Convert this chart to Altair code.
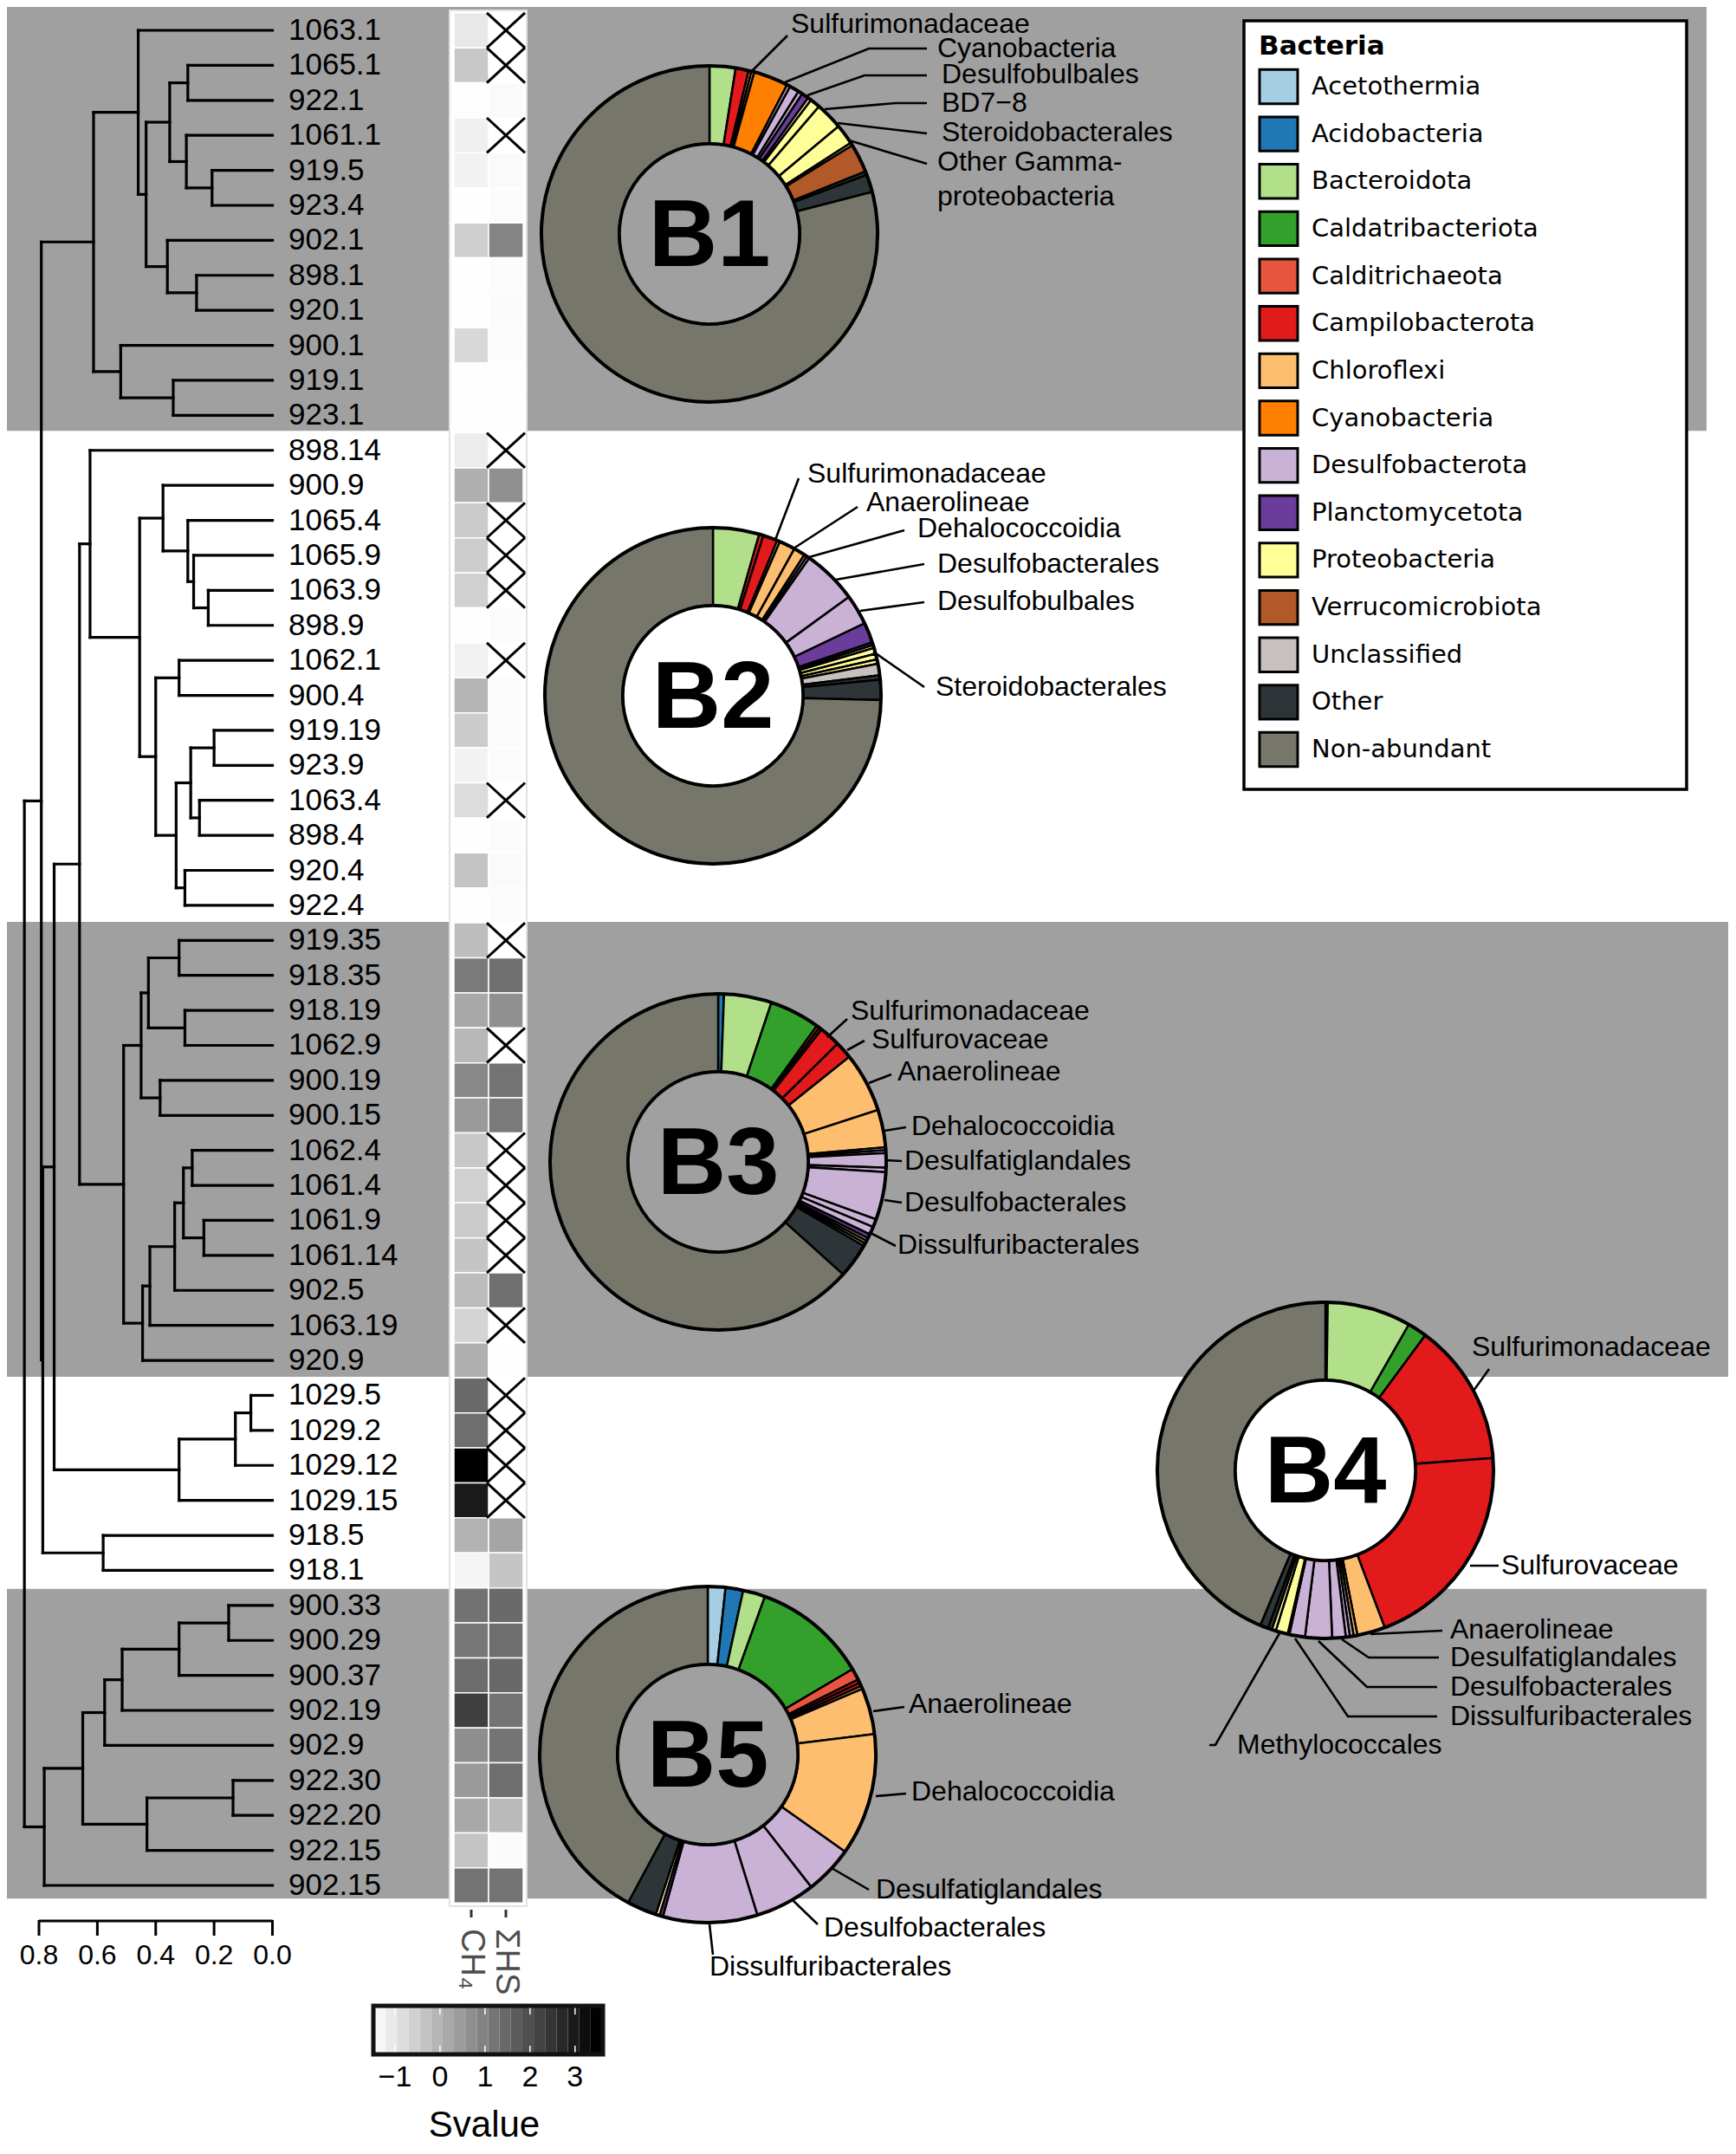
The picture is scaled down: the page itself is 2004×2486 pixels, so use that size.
import math
import numpy as np
import pandas as pd
import altair as alt

# ---------------- data ----------------
LEAVES = ["1063.1", "1065.1", "922.1", "1061.1", "919.5", "923.4", "902.1", "898.1", "920.1", "900.1", "919.1", "923.1",
          "898.14", "900.9", "1065.4", "1065.9", "1063.9", "898.9", "1062.1", "900.4", "919.19", "923.9", "1063.4",
          "898.4", "920.4", "922.4",
          "919.35", "918.35", "918.19", "1062.9", "900.19", "900.15", "1062.4", "1061.4", "1061.9", "1061.14", "902.5",
          "1063.19", "920.9",
          "1029.5", "1029.2", "1029.12", "1029.15", "918.5", "918.1",
          "900.33", "900.29", "900.37", "902.19", "902.9", "922.30", "922.20", "922.15", "902.15"]

CH4 = [-1.05, -0.42, -1.46, -1.21, -1.25, -1.48, -0.56, -1.48, -1.46, -0.74, -1.48, -1.48,
       -1.13, 0.05, -0.48, -0.52, -0.58, -1.48, -1.25, -0.05, -0.50, -1.25, -0.81, -1.48, -0.34, -1.48,
       -0.21, 1.11, 0.21, -0.11, 0.83, 0.48, -0.42, -0.58, -0.48, -0.36, -0.19, -0.66, 0.05,
       1.42, 1.34, 3.5, 2.99, 0.01, -1.30,
       1.26, 1.17, 1.36, 2.25, 0.72, 0.48, 0.21, -0.34, 1.25]
SHS = [None, None, -1.40, None, -1.40, -1.44, 0.89, -1.44, -1.42, -1.44, -1.46, -1.46,
       None, 0.68, None, None, None, -1.44, None, -1.44, -1.44, -1.44, None, -1.44, -1.40, -1.44,
       None, 1.30, 0.68, None, 1.25, 1.11, None, None, None, None, 1.30, None, -1.48,
       None, None, None, None, 0.26, -0.36,
       1.42, 1.34, 1.46, 1.23, 1.23, 1.34, -0.15, -1.42, 1.25]
HEAT_COLS = ["CH\u2084", "\u03a3HS"]

# dendrogram: (merge height, left, right)
B1 = (0.613,
      (0.46, "1063.1",
       (0.433,
        (0.352, (0.29, "1065.1", "922.1"), (0.295, "1061.1", (0.207, "919.5", "923.4"))),
        (0.36, "902.1", (0.26, "898.1", "920.1")))),
      (0.52, "900.1", (0.34, "919.1", "923.1")))
B2 = (0.625, "898.14",
      (0.455,
       (0.375, "900.9", (0.29, "1065.4", (0.27, "1065.9", (0.22, "1063.9", "898.9")))),
       (0.40, (0.32, "1062.1", "900.4"),
        (0.33, (0.28, (0.20, "919.19", "923.9"), (0.25, "1063.4", "898.4")),
         (0.30, "920.4", "922.4")))))
B3 = (0.51,
      (0.45, (0.425, (0.32, "919.35", "918.35"), (0.30, "918.19", "1062.9")),
       (0.385, "900.19", "900.15")),
      (0.445, (0.42, (0.335, (0.305, (0.275, "1062.4", "1061.4"), (0.235, "1061.9", "1061.14")), "902.5"),
               "1063.19"), "920.9"))
C1029 = (0.32, (0.127, (0.074, "1029.5", "1029.2"), "1029.12"), "1029.15")
C918 = (0.58, "918.5", "918.1")
B5 = (0.782,
      (0.65, (0.575, (0.515, (0.32, (0.15, "900.33", "900.29"), "900.37"), "902.19"), "902.9"),
       (0.43, (0.135, "922.30", "922.20"), "922.15")),
      "902.15")
TREE = (0.85, (0.792, B1, (0.787, (0.748, (0.661, B2, B3), C1029), C918)), B5)
AXIS_TICKS = [0.8, 0.6, 0.4, 0.2, 0.0]

PHYLA = ["Acetothermia", "Acidobacteria", "Bacteroidota", "Caldatribacteriota", "Calditrichaeota",
         "Campilobacterota", "Chloroflexi", "Cyanobacteria", "Desulfobacterota", "Planctomycetota",
         "Proteobacteria", "Verrucomicrobiota", "Unclassified", "Other", "Non-abundant"]
COLORS = ["#a6cee3", "#1f78b4", "#b2df8a", "#33a02c", "#e8553f", "#e31a1c", "#fdbf6f", "#ff7f00",
          "#cab2d6", "#6a3d9a", "#ffff99", "#b15928", "#c8bfbf", "#2d3538", "#77766b"]

P1_PHY = ["Bacteroidota", "Campilobacterota", "Chloroflexi", "Chloroflexi", "Cyanobacteria",
          "Desulfobacterota", "Desulfobacterota", "Desulfobacterota", "Planctomycetota",
          "Proteobacteria", "Proteobacteria", "Proteobacteria", "Proteobacteria", "Proteobacteria",
          "Verrucomicrobiota", "Other", "Other", "Non-abundant"]
P1_VAL = [9.0, 4.5, 1.0, 1.0, 12.0, 1.2, 3.3, 1.5, 2.5, 1.2, 3.5, 9.5, 7.0, 1.0, 10.0, 1.2, 6.1, 284.5]

P2_PHY = ["Bacteroidota", "Campilobacterota", "Campilobacterota", "Chloroflexi", "Chloroflexi", "Chloroflexi",
          "Desulfobacterota", "Desulfobacterota", "Desulfobacterota", "Desulfobacterota",
          "Planctomycetota", "Planctomycetota", "Proteobacteria", "Proteobacteria", "Proteobacteria",
          "Proteobacteria", "Unclassified", "Other", "Other", "Non-abundant"]
P2_VAL = [16.0, 1.5, 5.0, 1.0, 5.5, 4.0, 1.0, 1.0, 19.0, 10.5, 7.0, 1.0, 1.0, 2.0, 2.0, 1.5, 4.0, 1.5, 7.0, 268.5]

P3_PHY = ["Acidobacteria", "Bacteroidota", "Caldatribacteriota", "Calditrichaeota", "Campilobacterota",
          "Campilobacterota", "Campilobacterota", "Chloroflexi", "Chloroflexi", "Desulfobacterota",
          "Desulfobacterota", "Desulfobacterota", "Desulfobacterota", "Desulfobacterota", "Desulfobacterota",
          "Desulfobacterota", "Planctomycetota", "Proteobacteria", "Proteobacteria",
          "Unclassified", "Other", "Non-abundant"]
P3_VAL = [2.0, 16.5, 17.5, 1.0, 1.0, 7.3, 6.0, 20.7, 13.0, 1.0, 1.0, 5.0, 1.5, 16.5, 2.8, 2.7, 1.5,
          1.0, 1.0, 1.0, 12.0, 228.0]

P4_PHY = ["Acidobacteria", "Bacteroidota", "Caldatribacteriota", "Campilobacterota", "Campilobacterota",
          "Chloroflexi", "Chloroflexi", "Desulfobacterota", "Desulfobacterota", "Desulfobacterota",
          "Desulfobacterota", "Desulfobacterota", "Planctomycetota", "Proteobacteria", "Proteobacteria",
          "Other", "Other", "Non-abundant"]
P4_VAL = [0.8, 29.0, 6.7, 49.3, 73.5, 9.7, 1.3, 1.3, 1.4, 4.7, 9.3, 5.4, 0.6, 4.2, 1.4, 1.4, 2.8, 157.2]

P5_PHY = ["Acetothermia", "Acidobacteria", "Bacteroidota", "Caldatribacteriota", "Calditrichaeota",
          "Campilobacterota", "Campilobacterota", "Chloroflexi", "Chloroflexi", "Chloroflexi",
          "Desulfobacterota", "Desulfobacterota", "Desulfobacterota", "Planctomycetota", "Proteobacteria",
          "Other", "Non-abundant"]
P5_VAL = [6.1, 6.1, 7.7, 39.6, 4.0, 1.2, 1.2, 1.1, 16.0, 42.3, 16.7, 20.8, 32.7, 1.2, 1.3, 10.3, 151.7]

# ---------------- layout (original-picture pixel coordinates) ----------------
BAND_GRAY = "#a0a0a0"
BAND_R0 = [-0.72, 25.47, 44.53]
BAND_R1 = [11.44, 38.47, 53.38]
BAND_X0 = [6, 6, 6]
BAND_X1 = [1970, 1995, 1970]

PIES = [  # name, phyla, values, cx, cy, inner fill
    ("B1", P1_PHY, P1_VAL, 819, 270, BAND_GRAY),
    ("B2", P2_PHY, P2_VAL, 823, 803, "white"),
    ("B3", P3_PHY, P3_VAL, 829, 1341, BAND_GRAY),
    ("B4", P4_PHY, P4_VAL, 1530, 1697, "white"),
    ("B5", P5_PHY, P5_VAL, 817, 2025, BAND_GRAY),
]
RO, RI = 194, 104

ANNOT = [  # text, text x, text y, leader polyline
    ("Sulfurimonadaceae", 913, 28, [(868, 82), (909, 41)]),
    ("Cyanobacteria", 1082, 56, [(906, 95), (1003, 56), (1070, 56)]),
    ("Desulfobulbales", 1087, 86, [(932, 110), (998, 87), (1070, 87)]),
    ("BD7\u22128", 1087, 119, [(952, 126), (1034, 119), (1070, 119)]),
    ("Steroidobacterales", 1087, 153, [(967, 142), (1070, 154)]),
    ("Other Gamma-", 1082, 187, [(980, 162), (1070, 189)]),
    ("proteobacteria", 1082, 227, []),
    ("Sulfurimonadaceae", 932, 547, [(895, 623), (922, 552)]),
    ("Anaerolineae", 1000, 580, [(916, 633), (990, 585)]),
    ("Dehalococcoidia", 1059, 610, [(934, 643), (1044, 612)]),
    ("Desulfobacterales", 1082, 651, [(965, 669), (1067, 651)]),
    ("Desulfobulbales", 1082, 694, [(993, 705), (1067, 695)]),
    ("Steroidobacterales", 1080, 793, [(1008, 752), (1067, 793)]),
    ("Sulfurimonadaceae", 982, 1167, [(955, 1197), (978, 1176)]),
    ("Sulfurovaceae", 1006, 1200, [(978, 1212), (998, 1201)]),
    ("Anaerolineae", 1036, 1237, [(1003, 1250), (1029, 1240)]),
    ("Dehalococcoidia", 1052, 1300, [(1021, 1305), (1046, 1301)]),
    ("Desulfatiglandales", 1044, 1340, [(1022, 1339), (1041, 1340)]),
    ("Desulfobacterales", 1044, 1388, [(1021, 1385), (1041, 1388)]),
    ("Dissulfuribacterales", 1036, 1437, [(1003, 1422), (1034, 1438)]),
    ("Sulfurimonadaceae", 1699, 1555, [(1701, 1605), (1719, 1580)]),
    ("Sulfurovaceae", 1733, 1807, [(1697, 1807), (1730, 1807)]),
    ("Anaerolineae", 1674, 1881, [(1582, 1886), (1665, 1882)]),
    ("Desulfatiglandales", 1674, 1913, [(1549, 1892), (1580, 1913), (1661, 1913)]),
    ("Desulfobacterales", 1674, 1947, [(1522, 1894), (1578, 1947), (1659, 1947)]),
    ("Dissulfuribacterales", 1674, 1981, [(1495, 1891), (1556, 1981), (1659, 1981)]),
    ("Methylococcales", 1428, 2014, [(1477, 1885), (1403, 2014), (1396, 2014)]),
    ("Anaerolineae", 1049, 1967, [(1008, 1975), (1044, 1970)]),
    ("Dehalococcoidia", 1052, 2068, [(1011, 2073), (1046, 2070)]),
    ("Desulfatiglandales", 1011, 2181, [(960, 2156), (1003, 2181)]),
    ("Desulfobacterales", 951, 2225, [(914, 2192), (944, 2221)]),
    ("Dissulfuribacterales", 819, 2270, [(819, 2221), (823, 2256)]),
]

# ---------------- scales ----------------
M = 8
PX = alt.Scale(domain=[0, 2004], range=[-M, 2004 - M], nice=False, zero=False)
PY = alt.Scale(domain=[0, 2486], range=[-M, 2486 - M], nice=False, zero=False)
ROWY = alt.Scale(domain=[0, 53], range=[35 - M, 2176 - M], nice=False, zero=False)
DX = alt.Scale(domain=[0.0, 0.8], range=[314.5 - M, 45 - M], nice=False, zero=False)
HX = alt.Scale(domain=[-0.5, 1.5], range=[524 - M, 604 - M], nice=False, zero=False)
CX = alt.Scale(domain=[-1.46, 3.6], range=[432 - M, 695 - M], nice=False, zero=False)
LY = alt.Scale(domain=[0, 14], range=[100 - M, 865 - M], nice=False, zero=False)
HEATC = alt.Scale(domain=[-1.5, 3.5], range=["#ffffff", "#000000"], interpolate="rgb")
FILLS = alt.Scale(domain=PHYLA, range=COLORS)
THETA = alt.Scale(domain=[0, 1], range=[0, 2 * math.pi], zero=False, nice=False)
ONE = pd.DataFrame({"a": [0]})
FONT = "Liberation Sans"

layers = []

# background bands
band_df = pd.DataFrame({"r0": BAND_R0, "r1": BAND_R1, "x0": BAND_X0, "x1": BAND_X1})
layers.append(alt.Chart(band_df).mark_rect(color=BAND_GRAY).encode(
    x=alt.X("x0:Q", scale=PX, axis=None), x2="x1",
    y=alt.Y("r0:Q", scale=ROWY, axis=None), y2="r1"))

# heatmap column background
layers.append(alt.Chart(ONE).mark_rect(fill="white", stroke="#e2e2e2", strokeWidth=2).encode(
    x=alt.value(519 - M), x2=alt.value(608 - M), y=alt.value(12 - M), y2=alt.value(2200 - M)))

# heatmap cells
cells = []
xs = []
for r in range(len(LEAVES)):
    for c, vals in enumerate([CH4, SHS]):
        v = vals[r]
        if v is None:
            xs.append({"a": c - 0.55, "b": c + 0.55, "c": r - 0.5, "d": r + 0.5})
            xs.append({"a": c - 0.55, "b": c + 0.55, "c": r + 0.5, "d": r - 0.5})
        else:
            cells.append({"c0": c - 0.5, "c1": c + 0.5, "r0": r - 0.5, "r1": r + 0.5, "v": v})
layers.append(alt.Chart(pd.DataFrame(cells)).mark_rect(stroke="white", strokeWidth=1.5).encode(
    x=alt.X("c0:Q", scale=HX, axis=None), x2="c1",
    y=alt.Y("r0:Q", scale=ROWY, axis=None), y2="r1",
    color=alt.Color("v:Q", scale=HEATC, legend=None)))
layers.append(alt.Chart(pd.DataFrame(xs)).mark_rule(color="black", strokeWidth=3).encode(
    x=alt.X("a:Q", scale=HX, axis=None), x2="b",
    y=alt.Y("c:Q", scale=ROWY, axis=None), y2="d"))

# dendrogram
rows = {n: i for i, n in enumerate(LEAVES)}
segs = []


def walk(node):
    if isinstance(node, str):
        return float(rows[node]), 0.0
    h, left, right = node
    yl, hl = walk(left)
    yr, hr = walk(right)
    segs.append({"x": h, "x2": h, "y": yl, "y2": yr})
    segs.append({"x": hl, "x2": h, "y": yl, "y2": yl})
    segs.append({"x": hr, "x2": h, "y": yr, "y2": yr})
    return (yl + yr) / 2, h


walk(TREE)
layers.append(alt.Chart(pd.DataFrame(segs)).mark_rule(color="black", strokeWidth=3.2, strokeCap="square").encode(
    x=alt.X("x:Q", scale=DX, axis=None), x2="x2",
    y=alt.Y("y:Q", scale=ROWY, axis=None), y2="y2"))

# leaf labels
leaf_df = pd.DataFrame({"leaf": LEAVES, "row": list(range(len(LEAVES)))})
layers.append(alt.Chart(leaf_df).mark_text(align="left", baseline="middle", fontSize=35, font=FONT).encode(
    x=alt.value(333 - M), y=alt.Y("row:Q", scale=ROWY, axis=None), text="leaf:N"))

# dendrogram axis
layers.append(alt.Chart(pd.DataFrame({"a": [0.8], "b": [0.0]})).mark_rule(color="black", strokeWidth=3).encode(
    x=alt.X("a:Q", scale=DX, axis=None), x2="b", y=alt.value(2217 - M)))
tick_df = pd.DataFrame({"t": AXIS_TICKS, "lab": [f"{t:.1f}" for t in AXIS_TICKS]})
layers.append(alt.Chart(tick_df).mark_rule(color="black", strokeWidth=3).encode(
    x=alt.X("t:Q", scale=DX, axis=None), y=alt.value(2216 - M), y2=alt.value(2234 - M)))
layers.append(alt.Chart(tick_df).mark_text(fontSize=32, font=FONT, baseline="middle").encode(
    x=alt.X("t:Q", scale=DX, axis=None), y=alt.value(2257 - M), text="lab:N"))

# heatmap column ticks and labels
hc_df = pd.DataFrame({"c": [0, 1], "lab": HEAT_COLS})
layers.append(alt.Chart(hc_df).mark_rule(color="#333333", strokeWidth=3).encode(
    x=alt.X("c:Q", scale=HX, axis=None), y=alt.value(2204 - M), y2=alt.value(2213 - M)))
layers.append(alt.Chart(hc_df).mark_text(angle=90, align="left", baseline="middle", fontSize=38, font=FONT,
                                         color="#4d4d4d").encode(
    x=alt.X("c:Q", scale=HX, axis=None), y=alt.value(2226 - M), text="lab:N"))

# colour bar
edges = np.linspace(-1.46, 3.6, 21)
cb_df = pd.DataFrame({"e0": edges[:-1], "e1": edges[1:], "v": (edges[:-1] + edges[1:]) / 2})
layers.append(alt.Chart(cb_df).mark_rect().encode(
    x=alt.X("e0:Q", scale=CX, axis=None), x2="e1", y=alt.value(2316 - M), y2=alt.value(2370 - M),
    color=alt.Color("v:Q", scale=HEATC, legend=None)))
cbt = pd.DataFrame({"t": [-1, 0, 1, 2, 3], "lab": ["\u22121", "0", "1", "2", "3"]})
layers.append(alt.Chart(cbt).mark_rule(color="white", strokeWidth=1.5).encode(
    x=alt.X("t:Q", scale=CX, axis=None), y=alt.value(2316 - M), y2=alt.value(2325 - M)))
layers.append(alt.Chart(cbt).mark_rule(color="white", strokeWidth=1.5).encode(
    x=alt.X("t:Q", scale=CX, axis=None), y=alt.value(2361 - M), y2=alt.value(2370 - M)))
layers.append(alt.Chart(ONE).mark_rect(fillOpacity=0, stroke="#111111", strokeWidth=5).encode(
    x=alt.value(431 - M), x2=alt.value(696 - M), y=alt.value(2315 - M), y2=alt.value(2371 - M)))
layers.append(alt.Chart(cbt).mark_text(fontSize=34, font=FONT, baseline="middle").encode(
    x=alt.X("t:Q", scale=CX, axis=None), y=alt.value(2398 - M), text="lab:N"))
layers.append(alt.Chart(pd.DataFrame({"t": ["Svalue"]})).mark_text(fontSize=42, font=FONT, baseline="middle").encode(
    x=alt.value(559 - M), y=alt.value(2453 - M), text="t:N"))

# pies
for name, phy, val, cx, cy, inner in PIES:
    cum = np.cumsum([0.0] + list(val)) / float(sum(val))
    d = pd.DataFrame({"phylum": phy, "t0": cum[:-1], "t1": cum[1:]})
    xv, yv = alt.value(cx - M), alt.value(cy - M)
    layers.append(alt.Chart(d).mark_arc(innerRadius=RI, outerRadius=RO, stroke="black", strokeWidth=2.5).encode(
        theta=alt.Theta("t0:Q", scale=THETA), theta2="t1",
        fill=alt.Fill("phylum:N", scale=FILLS, legend=None), x=xv, y=yv))
    layers.append(alt.Chart(ONE).mark_arc(innerRadius=RI, outerRadius=RO, theta=0, theta2=2 * math.pi,
                                          fillOpacity=0, stroke="black", strokeWidth=4).encode(x=xv, y=yv))
    layers.append(alt.Chart(ONE).mark_arc(innerRadius=0, outerRadius=RI, theta=0, theta2=2 * math.pi,
                                          fill=inner, stroke="black", strokeWidth=3.5).encode(x=xv, y=yv))
    layers.append(alt.Chart(pd.DataFrame({"t": [name]})).mark_text(
        fontSize=110, fontWeight="bold", font=FONT, align="center", baseline="middle").encode(
        x=alt.value(cx - M), y=alt.value(cy + 4 - M), text="t:N"))

# annotation leaders and labels
lead = []
for i, (t, tx, ty, pts) in enumerate(ANNOT):
    for k, (px, py) in enumerate(pts):
        lead.append({"id": i, "k": k, "x": px, "y": py})
layers.append(alt.Chart(pd.DataFrame(lead)).mark_line(color="black", strokeWidth=2.6).encode(
    x=alt.X("x:Q", scale=PX, axis=None), y=alt.Y("y:Q", scale=PY, axis=None),
    detail="id:N", order="k:Q"))
ann_df = pd.DataFrame({"t": [a[0] for a in ANNOT], "x": [a[1] for a in ANNOT], "y": [a[2] for a in ANNOT]})
layers.append(alt.Chart(ann_df).mark_text(align="left", baseline="middle", fontSize=32, font=FONT).encode(
    x=alt.X("x:Q", scale=PX, axis=None), y=alt.Y("y:Q", scale=PY, axis=None), text="t:N"))

# legend
layers.append(alt.Chart(ONE).mark_rect(fill="white", stroke="black", strokeWidth=3.5).encode(
    x=alt.value(1436 - M), x2=alt.value(1947 - M), y=alt.value(24 - M), y2=alt.value(911 - M)))
layers.append(alt.Chart(pd.DataFrame({"t": ["Bacteria"]})).mark_text(
    align="left", baseline="middle", fontSize=31, fontWeight="bold", font="DejaVu Sans").encode(
    x=alt.value(1453 - M), y=alt.value(54 - M), text="t:N"))
leg_df = pd.DataFrame({"phylum": PHYLA, "idx": list(range(len(PHYLA)))})
leg_df["y0"] = leg_df["idx"] - 0.36
leg_df["y1"] = leg_df["idx"] + 0.36
layers.append(alt.Chart(leg_df).mark_rect(stroke="black", strokeWidth=3).encode(
    x=alt.value(1454 - M), x2=alt.value(1498 - M),
    y=alt.Y("y0:Q", scale=LY, axis=None), y2="y1",
    fill=alt.Fill("phylum:N", scale=FILLS, legend=None)))
layers.append(alt.Chart(leg_df).mark_text(align="left", baseline="middle", fontSize=29, font="DejaVu Sans").encode(
    x=alt.value(1514 - M), y=alt.Y("idx:Q", scale=LY, axis=None), text="phylum:N"))

chart = alt.layer(*layers).resolve_scale(
    x="independent", y="independent", color="independent", fill="independent", theta="independent"
).properties(width=2004 - 2 * M, height=2486 - 2 * M, padding=0, autosize="none"
             ).configure(background="white", view=alt.ViewConfig(stroke=None))

chart.save("out.html", embed_options={"renderer": "svg", "actions": False})
